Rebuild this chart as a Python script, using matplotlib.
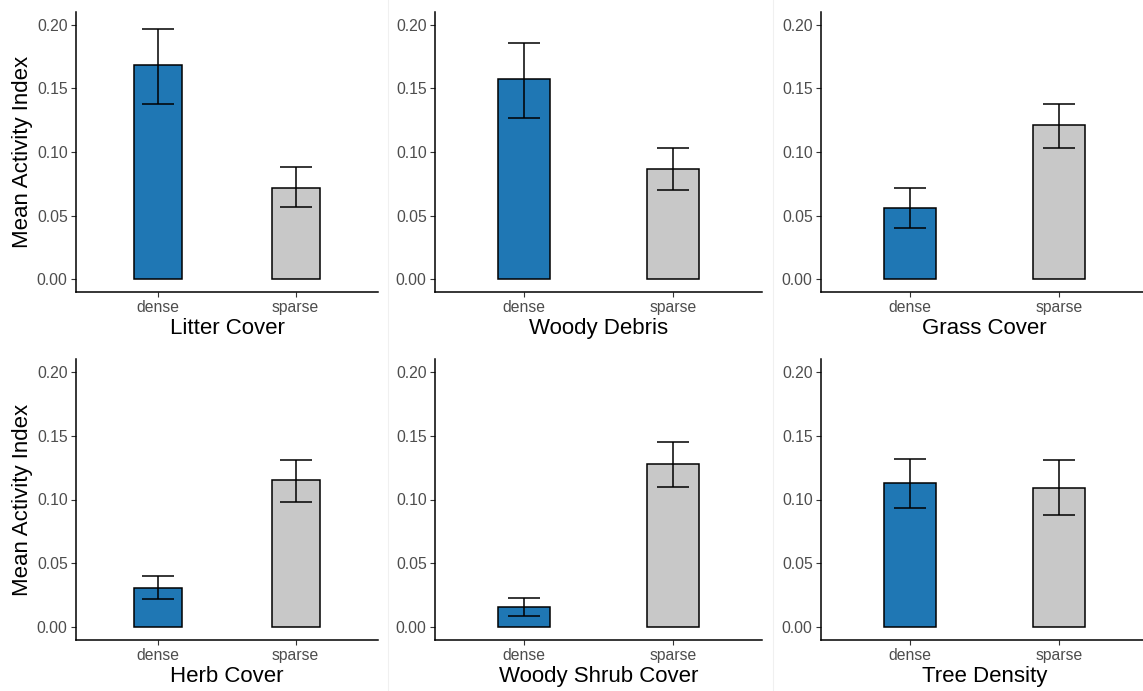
import matplotlib
matplotlib.use('Agg')
import matplotlib.pyplot as plt
from matplotlib.lines import Line2D

plt.rcParams['font.family'] = ['Liberation Sans', 'DejaVu Sans']

# ---- data ----
panels = ['Litter Cover', 'Woody Debris', 'Grass Cover',
          'Herb Cover', 'Woody Shrub Cover', 'Tree Density']
groups = ['dense', 'sparse']
means = [[0.168, 0.072], [0.157, 0.087], [0.056, 0.121],
         [0.031, 0.115], [0.016, 0.128], [0.113, 0.109]]
lower = [[0.138, 0.057], [0.127, 0.070], [0.040, 0.103],
         [0.022, 0.098], [0.009, 0.110], [0.093, 0.088]]
upper = [[0.197, 0.088], [0.186, 0.103], [0.072, 0.138],
         [0.040, 0.131], [0.023, 0.145], [0.132, 0.131]]
yticks = [0.00, 0.05, 0.10, 0.15, 0.20]
colors = ['#1F77B4', '#C8C8C8']

W, H = 1143, 691
fig = plt.figure(figsize=(W / 100, H / 100), dpi=100)
fig.patch.set_facecolor('white')

# axes boxes in pixels (left, right) / (top, bottom)
cols = [(76, 378), (435, 762), (821, 1148)]
rows = [(12, 292), (359, 640)]

for k, name in enumerate(panels):
    r, c = divmod(k, 3)
    l, rr = cols[c]
    t, b = rows[r]
    ax = fig.add_axes([l / W, 1 - b / H, (rr - l) / W, (b - t) / H])
    x = list(range(len(groups)))
    m = means[k]
    err = [[m[i] - lower[k][i] for i in x], [upper[k][i] - m[i] for i in x]]
    ax.bar(x, m, width=0.35, color=colors, edgecolor='black', linewidth=1.1, zorder=2)
    ax.errorbar(x, m, yerr=err, fmt='none', ecolor='black', elinewidth=1.1,
                capsize=11.5, capthick=1.1, zorder=3)
    ax.set_xlim(-0.6, 1.6)
    ax.set_ylim(-0.01, 0.21)
    ax.set_xticks(x)
    ax.set_xticklabels(groups)
    ax.set_yticks(yticks)
    ax.set_yticklabels([f'{v:.2f}' for v in yticks])
    for s in ['top', 'right']:
        ax.spines[s].set_visible(False)
    for s in ['left', 'bottom']:
        ax.spines[s].set_linewidth(1.1)
        ax.spines[s].set_color('black')
    ax.tick_params(axis='both', length=3.5, width=0.8, color='#333333',
                   labelcolor='#4D4D4D', labelsize=11.3, pad=2.5)
    ax.set_xlabel(name, fontsize=16, labelpad=2)
    if c == 0:
        ax.set_ylabel('Mean Activity Index', fontsize=16, labelpad=3)

# faint panel separators
for xs in [387.5, 772.5]:
    fig.add_artist(Line2D([xs / W, xs / W], [0, 1], color='#F0F0F0', lw=0.8))

fig.savefig('out.png', dpi=100, facecolor='white')
plt.close(fig)
